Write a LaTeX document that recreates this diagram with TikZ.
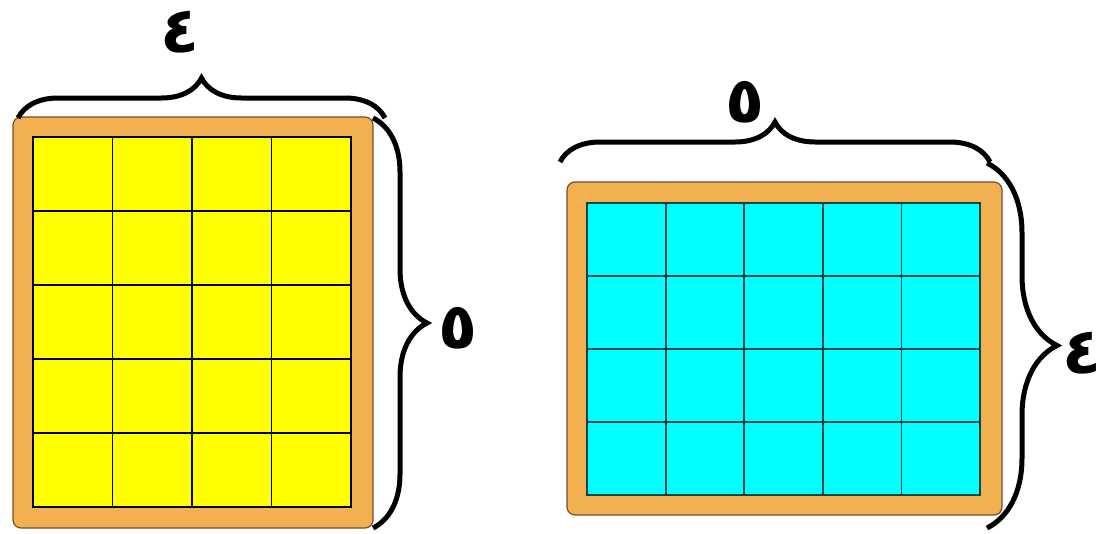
\documentclass[tikz,border=0pt]{standalone}
\usepackage{fontspec}
\newfontfamily\arabicfont[Script=Arabic]{DejaVu Sans}
\TeXXeTstate=1
\usetikzlibrary{decorations.pathreplacing}
\definecolor{frameor}{RGB}{242,176,80}
\definecolor{framedge}{RGB}{110,80,50}
\definecolor{tealline}{RGB}{10,70,70}
\definecolor{cellyellow}{RGB}{255,255,0}
\definecolor{cellcyan}{RGB}{0,255,255}
\begin{document}
\begin{tikzpicture}[x=1pt,y=-1pt,
  frame/.style={draw=framedge, fill=frameor, line width=1.2pt, rounded corners=8pt, inner sep=0pt},
  cellbox/.style={draw, line width=1.8pt, inner sep=0pt},
  gridl/.style={line width=1.8pt},
  bracestyle/.style={decorate, decoration={brace, amplitude=#1}, line width=5pt},
  lbl/.style={font=\arabicfont\bfseries\fontsize{64}{64}\selectfont, inner sep=0pt}]
\useasboundingbox (0,0) rectangle (1106,533);
% left figure
\node[frame, minimum width=360pt, minimum height=411pt] (F1) at (193,322.5) {};
\node[cellbox, fill=cellyellow, minimum width=318pt, minimum height=370pt] (G1) at (192,322) {};
\foreach \x in {112.5,192,271.5} \draw[gridl] (\x,137) -- (\x,507);
\foreach \y in {211,285,359,433} \draw[gridl] (33,\y) -- (351,\y);
% right figure
\node[frame, minimum width=435pt, minimum height=333pt] (F2) at (784.5,348.5) {};
\node[cellbox, draw=tealline, fill=cellcyan, minimum width=393pt, minimum height=292pt] (G2) at (783.5,349) {};
\foreach \x in {665.6,744.2,822.8,901.4} \draw[gridl, tealline] (\x,203) -- (\x,495);
\foreach \y in {276,349,422} \draw[gridl, tealline] (587,\y) -- (980,\y);
% braces
\coordinate (b1a) at (18,118);
\coordinate (b1b) at (385,118);
\coordinate (b2a) at (373,118);
\coordinate (b2b) at (373,528);
\coordinate (b3a) at (560,162);
\coordinate (b3b) at (990,162);
\coordinate (b4a) at (987,163);
\coordinate (b4b) at (987,528);
\draw[bracestyle=40pt] (b1a) -- (b1b);
\draw[bracestyle=54pt] (b2a) -- (b2b);
\draw[bracestyle=40pt] (b3a) -- (b3b);
\draw[bracestyle=70pt] (b4a) -- (b4b);
% labels
\node[lbl] (l1) at (180,32) {\beginR ٤\endR};
\node[lbl] (l2) at (458,328) {\beginR ٥\endR};
\node[lbl] (l3) at (745,102) {\beginR ٥\endR};
\node[lbl] (l4) at (1082,353) {\beginR ٤\endR};
\end{tikzpicture}
\end{document}
